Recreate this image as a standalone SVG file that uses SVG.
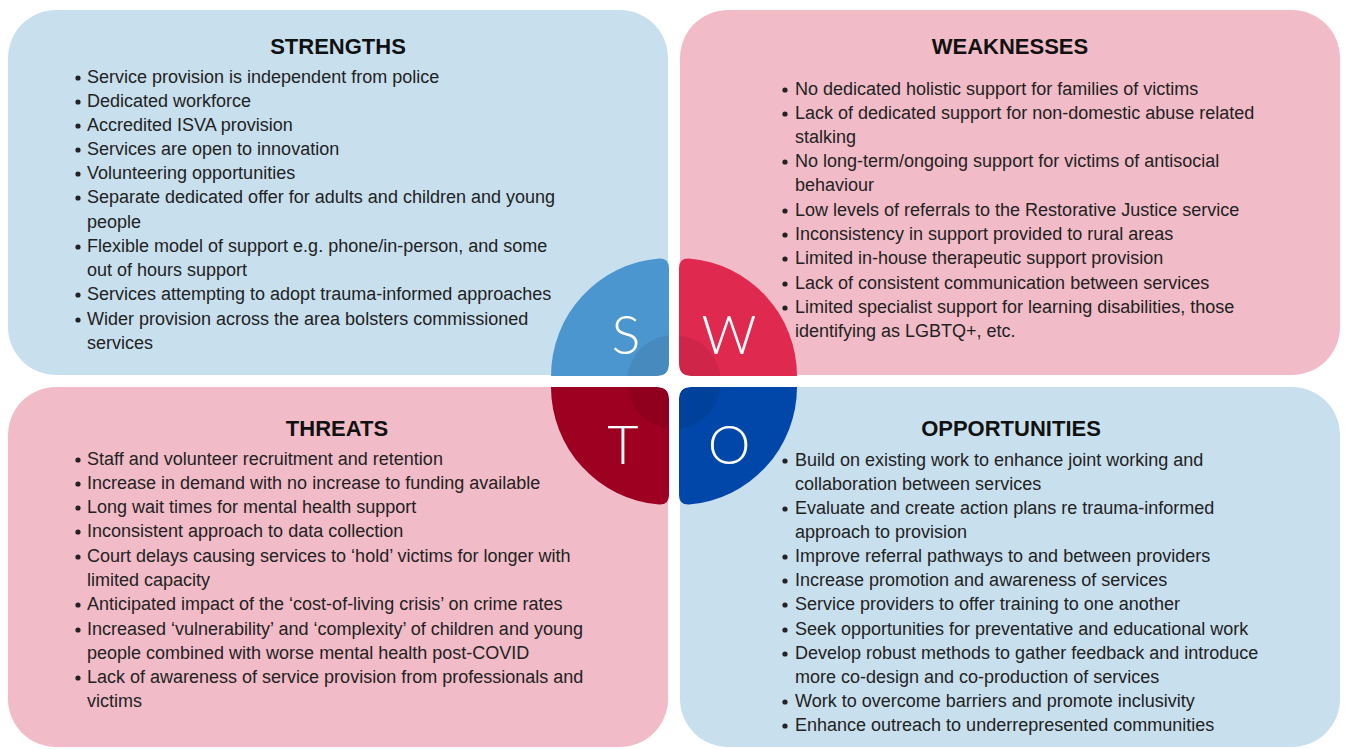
<svg xmlns="http://www.w3.org/2000/svg" width="1346" height="749" viewBox="0 0 1346 749">
<style>
.box-s{fill:#c8e0ee}
.box-w{fill:#f1bcc8}
.title{font-family:"Liberation Sans",Arial,sans-serif;font-weight:bold;font-size:22px;fill:#111;text-anchor:middle}
.body{font-family:"Liberation Sans",Arial,sans-serif;font-size:18px;fill:#222}
.dot{fill:#222}
.letter{font-family:Lato,"Open Sans","Liberation Sans",sans-serif;font-weight:300;font-size:54px;fill:#fff;text-anchor:middle}
</style>
<rect width="1346" height="749" fill="#fff"/>

<g id="strengths">
<rect class="box-s" x="8" y="10" width="660" height="365" rx="48"/>
<text class="title" x="338" y="54">STRENGTHS</text>
<g class="body">
<text x="87" y="83">Service provision is independent from police</text>
<text x="87" y="107">Dedicated workforce</text>
<text x="87" y="131">Accredited ISVA provision</text>
<text x="87" y="155">Services are open to innovation</text>
<text x="87" y="179">Volunteering opportunities</text>
<text x="87" y="203">Separate dedicated offer for adults and children and young</text>
<text x="87" y="228">people</text>
<text x="87" y="252">Flexible model of support e.g. phone/in-person, and some</text>
<text x="87" y="276">out of hours support</text>
<text x="87" y="300">Services attempting to adopt trauma-informed approaches</text>
<text x="87" y="325">Wider provision across the area bolsters commissioned</text>
<text x="87" y="349">services</text>
</g>
<g class="dot">
<circle cx="78" cy="78" r="2.6"/><circle cx="78" cy="102" r="2.6"/><circle cx="78" cy="126" r="2.6"/><circle cx="78" cy="150" r="2.6"/><circle cx="78" cy="174" r="2.6"/><circle cx="78" cy="198" r="2.6"/><circle cx="78" cy="247" r="2.6"/><circle cx="78" cy="295" r="2.6"/><circle cx="78" cy="320" r="2.6"/>
</g>
</g>

<g id="weaknesses">
<rect class="box-w" x="680" y="10" width="660" height="365" rx="48"/>
<text class="title" x="1010" y="54">WEAKNESSES</text>
<g class="body">
<text x="795" y="95">No dedicated holistic support for families of victims</text>
<text x="795" y="119">Lack of dedicated support for non-domestic abuse related</text>
<text x="795" y="143">stalking</text>
<text x="795" y="167">No long-term/ongoing support for victims of antisocial</text>
<text x="795" y="191">behaviour</text>
<text x="795" y="216">Low levels of referrals to the Restorative Justice service</text>
<text x="795" y="240">Inconsistency in support provided to rural areas</text>
<text x="795" y="264">Limited in-house therapeutic support provision</text>
<text x="795" y="289">Lack of consistent communication between services</text>
<text x="795" y="313">Limited specialist support for learning disabilities, those</text>
<text x="795" y="337">identifying as LGBTQ+, etc.</text>
</g>
<g class="dot">
<circle cx="785" cy="90" r="2.6"/><circle cx="785" cy="114" r="2.6"/><circle cx="785" cy="162" r="2.6"/><circle cx="785" cy="211" r="2.6"/><circle cx="785" cy="235" r="2.6"/><circle cx="785" cy="259" r="2.6"/><circle cx="785" cy="284" r="2.6"/><circle cx="785" cy="308" r="2.6"/>
</g>
</g>

<g id="threats">
<rect class="box-w" x="8" y="387" width="660" height="360" rx="48"/>
<text class="title" x="337" y="436">THREATS</text>
<g class="body">
<text x="87" y="465">Staff and volunteer recruitment and retention</text>
<text x="87" y="489">Increase in demand with no increase to funding available</text>
<text x="87" y="513">Long wait times for mental health support</text>
<text x="87" y="537">Inconsistent approach to data collection</text>
<text x="87" y="562">Court delays causing services to ‘hold’ victims for longer with</text>
<text x="87" y="586">limited capacity</text>
<text x="87" y="610">Anticipated impact of the ‘cost-of-living crisis’ on crime rates</text>
<text x="87" y="635">Increased ‘vulnerability’ and ‘complexity’ of children and young</text>
<text x="87" y="659">people combined with worse mental health post-COVID</text>
<text x="87" y="683">Lack of awareness of service provision from professionals and</text>
<text x="87" y="707">victims</text>
</g>
<g class="dot">
<circle cx="78" cy="460" r="2.6"/><circle cx="78" cy="484" r="2.6"/><circle cx="78" cy="508" r="2.6"/><circle cx="78" cy="532" r="2.6"/><circle cx="78" cy="557" r="2.6"/><circle cx="78" cy="605" r="2.6"/><circle cx="78" cy="630" r="2.6"/><circle cx="78" cy="678" r="2.6"/>
</g>
</g>

<g id="opportunities">
<rect class="box-s" x="680" y="387" width="660" height="360" rx="48"/>
<text class="title" x="1011" y="436">OPPORTUNITIES</text>
<g class="body">
<text x="795" y="466">Build on existing work to enhance joint working and</text>
<text x="795" y="490">collaboration between services</text>
<text x="795" y="514">Evaluate and create action plans re trauma-informed</text>
<text x="795" y="538">approach to provision</text>
<text x="795" y="562">Improve referral pathways to and between providers</text>
<text x="795" y="586">Increase promotion and awareness of services</text>
<text x="795" y="610">Service providers to offer training to one another</text>
<text x="795" y="635">Seek opportunities for preventative and educational work</text>
<text x="795" y="659">Develop robust methods to gather feedback and introduce</text>
<text x="795" y="683">more co-design and co-production of services</text>
<text x="795" y="707">Work to overcome barriers and promote inclusivity</text>
<text x="795" y="731">Enhance outreach to underrepresented communities</text>
</g>
<g class="dot">
<circle cx="785" cy="461" r="2.6"/><circle cx="785" cy="509" r="2.6"/><circle cx="785" cy="557" r="2.6"/><circle cx="785" cy="581" r="2.6"/><circle cx="785" cy="605" r="2.6"/><circle cx="785" cy="630" r="2.6"/><circle cx="785" cy="654" r="2.6"/><circle cx="785" cy="702" r="2.6"/><circle cx="785" cy="726" r="2.6"/>
</g>
</g>

<g id="swot-wheel">
<path id="q-s" fill="#4c96cf" d="M551,376 A118,118 0 0 1 659,258.4 Q669,258 669,268 L669,364 Q669,376 657,376 Z"/>
<path id="q-w" fill="#e0294f" d="M797,376 A118,118 0 0 0 689,258.4 Q679,258 679,268 L679,364 Q679,376 691,376 Z"/>
<path id="q-t" fill="#9d0021" d="M551,387 A118,118 0 0 0 659,504.6 Q669,505 669,495 L669,399 Q669,387 657,387 Z"/>
<path id="q-o" fill="#0047a9" d="M797,387 A118,118 0 0 1 689,504.6 Q679,505 679,495 L679,399 Q679,387 691,387 Z"/>
<circle cx="674" cy="382" r="47" fill="#000" fill-opacity="0.08"/>
<rect x="669" y="320" width="10" height="125" fill="#fff"/>
<rect x="615" y="376" width="120" height="11" fill="#fff"/>
<path fill="#fff" d="M657,376 Q669,376 669,364 L669,376 Z M691,376 Q679,376 679,364 L679,376 Z M657,387 Q669,387 669,399 L669,387 Z M691,387 Q679,387 679,399 L679,387 Z"/>
<text class="letter" x="626" y="354">S</text>
<text class="letter" x="729" y="354">W</text>
<text class="letter" x="623" y="464">T</text>
<text class="letter" x="729" y="464">O</text>
</g>
</svg>
